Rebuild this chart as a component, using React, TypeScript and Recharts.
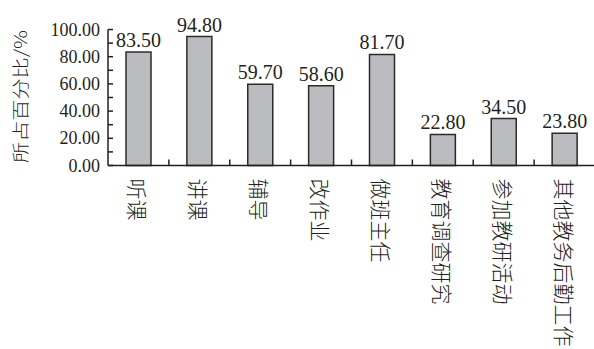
import React from 'react';
import { BarChart, Bar, XAxis, YAxis, LabelList, Label } from 'recharts';

const categories = ['听课', '讲课', '辅导', '改作业', '做班主任', '教育调查研究', '参加教研活动', '其他教务后勤工作'];
const percentages = [83.5, 94.8, 59.7, 58.6, 81.7, 22.8, 34.5, 23.8];
const yTicks = [0, 10, 20, 30, 40, 50, 60, 70, 80, 90, 100];
const yAxisTitle = '所占百分比/%';

const data = categories.map((name, i) => ({ name, value: percentages[i] }));

const INK = '#231f20';
const SERIF = '"Liberation Serif", serif';
const CJK = '"Noto Sans CJK SC", sans-serif';

function CategoryTick(props: any) {
  const { x, y, payload, index } = props;
  const half = payload && typeof payload.offset === 'number' ? payload.offset : 30.45;
  const ty = y + 13;
  return (
    <g>
      {index < categories.length - 1 && (
        <line x1={x + half} x2={x + half} y1={y} y2={y - 6} stroke={INK} strokeWidth={1.5} />
      )}
      <text
        x={x}
        y={ty}
        transform={`rotate(90, ${x}, ${ty})`}
        textAnchor="start"
        dominantBaseline="central"
        style={{ fontFamily: CJK, fontSize: 21, fontWeight: 300 }}
        fill={INK}
      >
        {payload.value}
      </text>
    </g>
  );
}

function YTick(props: any) {
  const { x, y, payload } = props;
  if (payload.value % 20 !== 0) return null;
  return (
    <text x={x} y={y + 6} textAnchor="end" style={{ fontFamily: SERIF, fontSize: 18 }} fill={INK}>
      {Number(payload.value).toFixed(2)}
    </text>
  );
}

function BarValueLabel(props: any) {
  const { x, y, width, value } = props;
  return (
    <text x={x + width / 2} y={y - 5} textAnchor="middle" style={{ fontFamily: SERIF, fontSize: 20 }} fill={INK}>
      {Number(value).toFixed(2)}
    </text>
  );
}

function YTitle(props: any) {
  const vb = props.viewBox || { x: 0, y: 29.5, width: 108, height: 136.5 };
  const cx = vb.x + 19;
  const cy = vb.y + vb.height / 2 - 1;
  return (
    <text
      x={cx}
      y={cy}
      transform={`rotate(-90, ${cx}, ${cy})`}
      textAnchor="middle"
      dominantBaseline="central"
      style={{ fontFamily: CJK, fontSize: 17, fontWeight: 300 }}
      fill={INK}
      textLength={133}
      lengthAdjust="spacingAndGlyphs"
    >
      {yAxisTitle}
    </text>
  );
}

export default function App() {
  return (
    <div style={{ position: 'absolute', left: 0, top: 0, width: 594, height: 349, background: '#fff' }}>
      <BarChart
        width={594}
        height={349}
        data={data}
        margin={{ top: 29.5, right: -1, bottom: 153.5, left: 0 }}
      >
        <XAxis
          dataKey="name"
          height={30}
          axisLine={{ stroke: INK, strokeWidth: 1.5 }}
          tickLine={false}
          tickSize={0}
          tickMargin={0}
          interval={0}
          tick={<CategoryTick />}
        />
        <YAxis
          width={108}
          type="number"
          domain={[0, 100]}
          ticks={yTicks}
          interval={0}
          tickSize={-5}
          tickMargin={13}
          axisLine={{ stroke: INK, strokeWidth: 1.5 }}
          tickLine={{ stroke: INK, strokeWidth: 1.5 }}
          tick={<YTick />}
        >
          <Label content={<YTitle />} />
        </YAxis>
        <Bar
          dataKey="value"
          fill="#bbbcc0"
          stroke="#2b2b2b"
          strokeWidth={1.5}
          barSize={25}
          isAnimationActive={false}
        >
          <LabelList dataKey="value" content={<BarValueLabel />} />
        </Bar>
      </BarChart>
    </div>
  );
}
